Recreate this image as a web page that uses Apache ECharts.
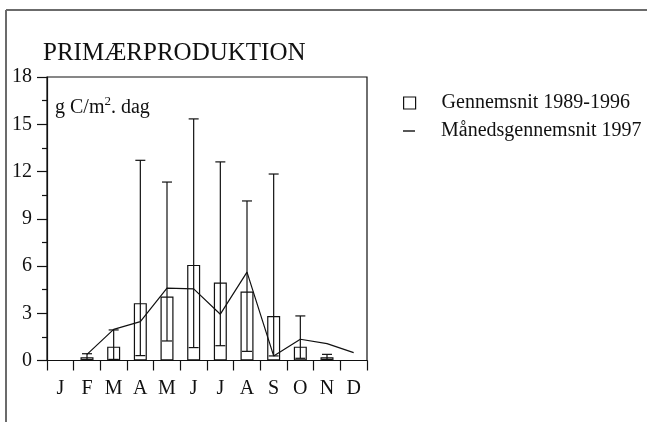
<!DOCTYPE html>
<html>
<head>
<meta charset="utf-8">
<script src="https://cdn.jsdelivr.net/npm/echarts@6/dist/echarts.min.js"></script>
<style>
  html, body { margin: 0; padding: 0; background: #fff; }
  #chart { width: 647px; height: 422px; }
</style>
</head>
<body>
<div id="chart"></div>
<script>
var months = ['J', 'F', 'M', 'A', 'M', 'J', 'J', 'A', 'S', 'O', 'N', 'D'];
// mean 1989-1996 (hollow bars) with min/max range
var mean8996 = [null, 0.2, 0.88, 3.64, 4.06, 6.07, 4.95, 4.38, 2.83, 0.88, 0.2, null];
var rangeLow = [null, 0.05, 0.07, 0.31, 1.24, 0.82, 0.94, 0.58, 0.29, 0.14, 0.07, null];
var rangeHigh = [null, 0.43, 1.94, 12.71, 11.33, 15.34, 12.61, 10.13, 11.84, 2.83, 0.39, null];
// monthly mean 1997 (line)
var month1997 = [null, 0.39, 1.98, 2.47, 4.59, 4.55, 2.94, 5.61, 0.29, 1.35, 1.07, 0.5];
var yMin = 0, yMax = 18, yStep = 3;

var serif = '"Liberation Serif", "Times New Roman", serif';
var ink = '#111';

var ranges = [];
months.forEach(function(m, i) {
  if (rangeLow[i] != null) ranges.push([i, rangeLow[i], rangeHigh[i]]);
});

var chart = echarts.init(document.getElementById('chart'), null, { renderer: 'canvas' });
chart.setOption({
  animation: false,
  backgroundColor: '#fff',
  grid: { left: 47, right: 280, top: 77, bottom: 61.5, show: true, borderColor: ink, borderWidth: 1.2, containLabel: false },
  legend: [{
    data: ['Gennemsnit 1989-1996'],
    left: 403, top: 93, padding: 0,
    icon: 'rect', itemWidth: 12, itemHeight: 12,
    itemStyle: { color: 'rgba(0,0,0,0)', borderColor: ink, borderWidth: 1.2 },
    textStyle: { fontFamily: serif, fontSize: 20, color: ink, padding: [0, 0, 0, 21] }
  }, {
    data: ['Månedsgennemsnit 1997'],
    left: 403, top: 121, padding: 0,
    icon: 'rect', itemWidth: 12, itemHeight: 1.4,
    itemStyle: { color: ink, borderWidth: 0 },
    textStyle: { fontFamily: serif, fontSize: 20, color: ink, padding: [0, 0, 0, 21] }
  }],
  xAxis: {
    type: 'category',
    data: months,
    boundaryGap: true,
    axisLine: { lineStyle: { color: ink, width: 1.2 } },
    axisTick: { show: true, length: 10, interval: 0, lineStyle: { color: ink, width: 1.2 } },
    axisLabel: { interval: 0, margin: 18, fontFamily: serif, fontSize: 20, color: ink },
    splitLine: { show: false }
  },
  yAxis: {
    type: 'value',
    min: yMin, max: yMax, interval: yStep,
    axisLine: { show: true, lineStyle: { color: ink, width: 1.2 } },
    axisTick: { show: true, length: 10, lineStyle: { color: ink, width: 1.2 } },
    minorTick: { show: true, splitNumber: 2, length: 5, lineStyle: { color: ink, width: 1.2 } },
    axisLabel: { margin: 15, fontFamily: serif, fontSize: 20, color: ink },
    splitLine: { show: false }
  },
  graphic: [
    { type: 'line', shape: { x1: 6, y1: 10, x2: 647, y2: 10 }, style: { stroke: '#6b6b6b', lineWidth: 2 } },
    { type: 'line', shape: { x1: 6, y1: 10, x2: 6, y2: 422 }, style: { stroke: '#6b6b6b', lineWidth: 2 } },
    { type: 'text', left: 43, top: 41, style: { text: 'PRIMÆRPRODUKTION', font: '25px ' + serif, fill: ink } },
    { type: 'text', left: 55, top: 95, style: {
      text: 'g C/m{sup|2}. dag', font: '20px ' + serif, fill: ink,
      rich: { sup: { fontSize: 13, fontFamily: serif, verticalAlign: 'top', padding: [0, 0, 12, 0] } }
    } }
  ],
  series: [{
    name: 'Gennemsnit 1989-1996',
    type: 'bar',
    data: mean8996,
    barWidth: 13,
    itemStyle: { color: 'rgba(0,0,0,0)', borderColor: ink, borderWidth: 1.2 },
    z: 2
  }, {
    name: 'range',
    type: 'custom',
    data: ranges,
    encode: { x: 0, y: [1, 2] },
    z: 3,
    renderItem: function(params, api) {
      var x = api.value(0);
      var lo = api.coord([x, api.value(1)]);
      var hi = api.coord([x, api.value(2)]);
      var h = 5;
      var st = { stroke: ink, lineWidth: 1.2 };
      return { type: 'group', children: [
        { type: 'line', shape: { x1: lo[0], y1: lo[1], x2: hi[0], y2: hi[1] }, style: st },
        { type: 'line', shape: { x1: lo[0] - h, y1: lo[1], x2: lo[0] + h, y2: lo[1] }, style: st },
        { type: 'line', shape: { x1: hi[0] - h, y1: hi[1], x2: hi[0] + h, y2: hi[1] }, style: st }
      ] };
    }
  }, {
    name: 'Månedsgennemsnit 1997',
    type: 'line',
    data: month1997,
    symbol: 'none',
    lineStyle: { color: ink, width: 1.2 },
    itemStyle: { color: ink },
    z: 4
  }]
});
</script>
</body>
</html>
